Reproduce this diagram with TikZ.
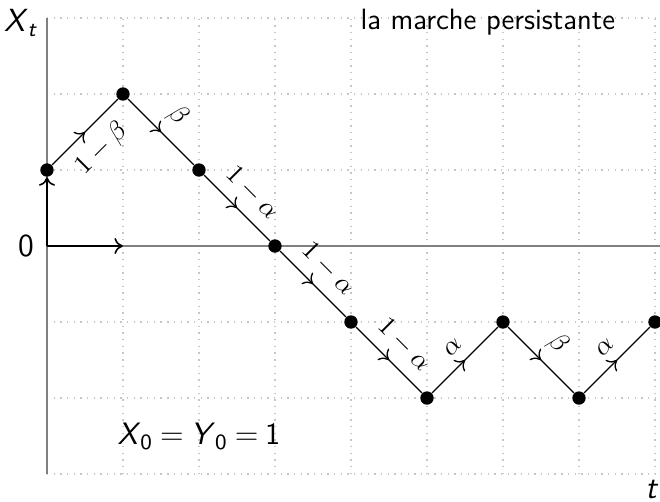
\documentclass[tikz,border=0pt]{standalone}
\usetikzlibrary{decorations.markings,arrows.meta}
\begin{document}
\begin{tikzpicture}[x=1cm,y=1cm,
  tip/.tip={To[length=3.2pt,width=6pt]},
  dot/.style={circle,fill=black,inner sep=0pt,minimum size=5pt},
  midarrow/.style={postaction={decorate},decoration={markings,mark=at position 0.5 with {\arrow{tip}}}},
  seg/.style={draw=black,line width=0.5pt,midarrow},
  lab/.style={font=\normalsize,sloped,inner sep=4.2pt},
  txt/.style={font=\sffamily\fontsize{11}{13}\selectfont},
  bigtxt/.style={font=\sffamily\fontsize{12}{14}\selectfont},
  axis/.style={draw=gray,line width=0.7pt},
  gridline/.style={draw=gray!45,dotted,line width=0.5pt}]
\useasboundingbox (-0.618,-3.368) rectangle (8.066,3.237);
\draw[gridline] (0,-3) grid (8.066,3);
\coordinate (o) at (0,0);
\coordinate (ytop) at (0,3);
\coordinate (ybot) at (0,-3);
\coordinate (xend) at (8.066,0);
\coordinate (e1) at (1,0);
\draw[axis] (ybot) -- (ytop);
\draw[axis] (o) -- (xend);
\node[dot] (p0) at (0,1) {};
\node[dot] (p1) at (1,2) {};
\node[dot] (p2) at (2,1) {};
\node[dot] (p3) at (3,0) {};
\node[dot] (p4) at (4,-1) {};
\node[dot] (p5) at (5,-2) {};
\node[dot] (p6) at (6,-1) {};
\node[dot] (p7) at (7,-2) {};
\node[dot] (p8) at (8,-1) {};
\draw[-tip,line width=0.6pt] (o) -- (e1);
\draw[-tip,line width=0.6pt] (o) -- (p0.south);
\draw[seg] (p0) -- node[lab,below] {$1-\beta$} (p1);
\draw[seg] (p1) -- node[lab,above] {$\beta$} (p2);
\draw[seg] (p2) -- node[lab,above] {$1-\alpha$} (p3);
\draw[seg] (p3) -- node[lab,above] {$1-\alpha$} (p4);
\draw[seg] (p4) -- node[lab,above] {$1-\alpha$} (p5);
\draw[seg] (p5) -- node[lab,above] {$\alpha$} (p6);
\draw[seg] (p6) -- node[lab,above] {$\beta$} (p7);
\draw[seg] (p7) -- node[lab,above] {$\alpha$} (p8);
\node[bigtxt] (xt) at (-0.34,2.93) {\textit{X}\textsubscript{\textit{t}}};
\node[bigtxt,anchor=east] (zero) at (-0.05,0) {0};
\node[bigtxt] (tl) at (7.96,-3.21) {\textit{t}};
\node[txt] (title) at (5.8,2.95) {la marche persistante};
\node[txt,font=\sffamily\fontsize{11.6}{14}\selectfont] (init) at (2.0,-2.51) {\textit{X}\textsubscript{0}\kern0.22em=\kern0.22em\textit{Y}\textsubscript{0}\kern0.22em=\kern0.22em1};
\end{tikzpicture}
\end{document}
